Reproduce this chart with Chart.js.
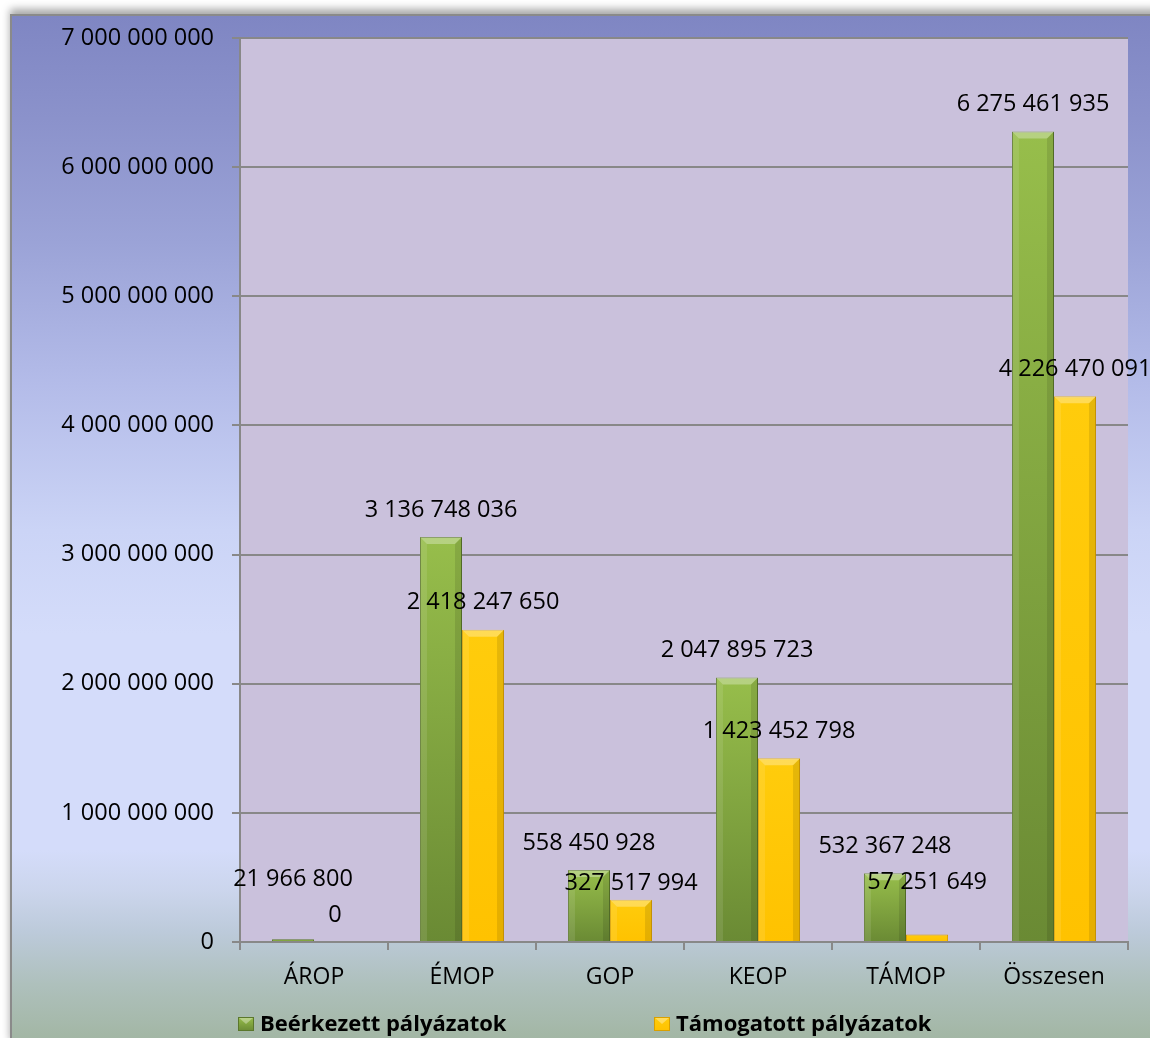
<!DOCTYPE html>
<html><head><meta charset="utf-8">
<script src="https://cdn.jsdelivr.net/npm/chart.js@4.4.1/dist/chart.umd.min.js"></script>
<style>
html,body{margin:0;padding:0;background:#fff;width:1150px;height:1038px;overflow:hidden}
#frame{position:absolute;left:10px;top:14px;width:1150px;height:1030px;border-left:2px solid #8a8a8a;border-top:2px solid #8a8a8a;box-shadow:0 -5px 8px rgba(0,0,0,0.35);
background:linear-gradient(to bottom,#7f86c3 0%,#8b92cb 10%,#9ba3d7 22%,#b4bce9 36%,#cbd4f6 50%,#d4dcfa 60%,#d4dcfa 81%,#cbd5ec 85%,#bccada 89%,#aec0bc 94%,#a1b5a1 100%)}
#wrap{position:absolute;left:0;top:0;width:1150px;height:1038px}
</style></head>
<body><div id="frame"></div><div id="wrap"><canvas id="c"></canvas></div>
<script>
const categories = ['ÁROP', 'ÉMOP', 'GOP', 'KEOP', 'TÁMOP', 'Összesen'];
const seriesNames = ['Beérkezett pályázatok', 'Támogatott pályázatok'];
const submitted = [21966800, 3136748036, 558450928, 2047895723, 532367248, 6275461935];
const supported = [0, 2418247650, 327517994, 1423452798, 57251649, 4226470091];
const yMin = 0, yMax = 7000000000, yStep = 1000000000;

const FONT = '"Open Sans", "DejaVu Sans", sans-serif';
const fmt = n => Math.round(n).toString().replace(/\B(?=(\d{3})+(?!\d))/g, ' ');

const palette = [
  {top: '#97be4b', bottom: '#6a8a34', border: '#5b772c'},
  {top: '#ffcc0c', bottom: '#ffc200', border: '#d9a000'}
];

function barFill(dsIndex) {
  return ctx => {
    const chart = ctx.chart;
    const y = chart.scales.y;
    if (!y || ctx.raw === undefined) return palette[dsIndex].top;
    const t = y.getPixelForValue(ctx.raw), b = y.getPixelForValue(0);
    if (!isFinite(t) || Math.abs(b - t) < 1) return palette[dsIndex].top;
    const g = chart.ctx.createLinearGradient(0, t, 0, b);
    g.addColorStop(0, palette[dsIndex].top);
    g.addColorStop(1, palette[dsIndex].bottom);
    return g;
  };
}

const plotBg = {
  id: 'plotBg',
  beforeDraw(chart) {
    const {ctx, chartArea: a} = chart;
    ctx.save();
    ctx.fillStyle = '#cac1dc';
    ctx.fillRect(a.left, a.top, a.right - a.left, a.bottom - a.top);
    ctx.restore();
  }
};

const bevel = {
  id: 'bevel',
  afterDatasetsDraw(chart) {
    const ctx = chart.ctx;
    chart.data.datasets.forEach((ds, di) => {
      chart.getDatasetMeta(di).data.forEach(el => {
        const L = el.x - el.width / 2, R = el.x + el.width / 2, T = el.y, B = el.base;
        const h = B - T;
        if (h < 8) return;
        const s = Math.min(7, h / 2);
        ctx.save();
        ctx.fillStyle = 'rgba(255,255,255,0.30)';
        ctx.beginPath(); ctx.moveTo(L, T); ctx.lineTo(R, T); ctx.lineTo(R - s, T + s); ctx.lineTo(L + s, T + s); ctx.closePath(); ctx.fill();
        ctx.fillStyle = 'rgba(255,255,255,0.10)';
        ctx.beginPath(); ctx.moveTo(L, T); ctx.lineTo(L + s, T + s); ctx.lineTo(L + s, B); ctx.lineTo(L, B); ctx.closePath(); ctx.fill();
        ctx.fillStyle = 'rgba(0,0,0,0.10)';
        ctx.beginPath(); ctx.moveTo(R, T); ctx.lineTo(R - s, T + s); ctx.lineTo(R - s, B); ctx.lineTo(R, B); ctx.closePath(); ctx.fill();
        ctx.restore();
      });
    });
  }
};

const valueLabels = {
  id: 'valueLabels',
  afterDatasetsDraw(chart, args, opts) {
    const ctx = chart.ctx;
    ctx.save();
    ctx.font = opts.font;
    ctx.fillStyle = '#000';
    ctx.textAlign = 'center';
    ctx.textBaseline = 'middle';
    chart.data.datasets.forEach((ds, di) => {
      chart.getDatasetMeta(di).data.forEach((el, i) => {
        const lift = opts.lift[di + ',' + i] || 0;
        ctx.fillText(fmt(ds.data[i]), el.x, el.y - opts.gap - lift);
      });
    });
    ctx.restore();
  }
};

const customLegend = {
  id: 'customLegend',
  afterDraw(chart, args, opts) {
    const ctx = chart.ctx;
    ctx.save();
    ctx.font = opts.font;
    ctx.textBaseline = 'middle';
    ctx.fillStyle = '#000';
    chart.data.datasets.forEach((ds, di) => {
      const x = opts.x[di], y = opts.y;
      const w = 16, h = 14, top = y - h / 2;
      const g = ctx.createLinearGradient(0, top, 0, top + h);
      g.addColorStop(0, palette[di].top); g.addColorStop(1, palette[di].bottom);
      ctx.fillStyle = g;
      ctx.fillRect(x, top, w, h);
      ctx.fillStyle = 'rgba(255,255,255,0.35)';
      ctx.beginPath(); ctx.moveTo(x, top); ctx.lineTo(x + w, top); ctx.lineTo(x + w / 2, top + h / 2); ctx.closePath(); ctx.fill();
      ctx.strokeStyle = palette[di].border; ctx.lineWidth = 1;
      ctx.strokeRect(x + 0.5, top + 0.5, w - 1, h - 1);
      ctx.fillStyle = '#000';
      ctx.fillText(ds.label, x + w + 6, y + 1);
    });
    ctx.restore();
  }
};

new Chart(document.getElementById('c'), {
  type: 'bar',
  data: {
    labels: categories,
    datasets: [
      {label: seriesNames[0], data: submitted, backgroundColor: barFill(0), borderColor: palette[0].border, borderWidth: 1},
      {label: seriesNames[1], data: supported, backgroundColor: barFill(1), borderColor: palette[1].border, borderWidth: 1}
    ]
  },
  options: {
    responsive: true,
    maintainAspectRatio: false,
    devicePixelRatio: 1,
    animation: false,
    layout: {padding: {left: 0, right: 22, top: 38, bottom: 36}},
    datasets: {bar: {categoryPercentage: 0.568, barPercentage: 1.0}},
    plugins: {
      legend: {display: false},
      tooltip: {enabled: false},
      valueLabels: {font: '23.5px ' + FONT, gap: 27, lift: {'0,0': 33, '1,4': 25, '1,2': -11}},
      customLegend: {font: 'bold 22px ' + FONT, x: [238, 654], y: 1024}
    },
    scales: {
      x: {
        offset: true,
        grid: {display: true, drawOnChartArea: false, drawTicks: true, tickLength: 8, color: '#888888', lineWidth: 2, offset: true},
        border: {display: true, color: '#888888', width: 2},
        ticks: {color: '#000', font: {family: FONT, size: 23}, padding: 14, maxRotation: 0, autoSkip: false},
        afterFit: s => { s.height = 60; }
      },
      y: {
        min: yMin, max: yMax,
        grid: {display: true, drawOnChartArea: true, drawTicks: true, tickLength: 8, color: '#888888', lineWidth: 2},
        border: {display: true, color: '#888888', width: 2},
        ticks: {stepSize: yStep, color: '#000', font: {family: FONT, size: 23.5}, padding: 18, callback: v => fmt(v)},
        afterFit: s => { s.width = 240; }
      }
    }
  },
  plugins: [plotBg, bevel, valueLabels, customLegend]
});
</script>
</body></html>
